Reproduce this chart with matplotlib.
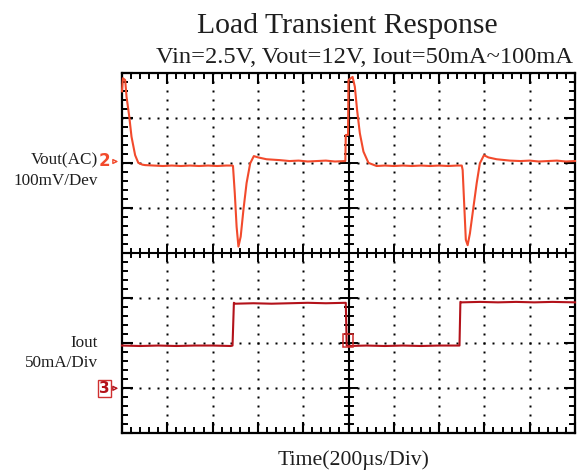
import numpy as np
import matplotlib
matplotlib.use("Agg")
import matplotlib.pyplot as plt
from matplotlib.patches import Rectangle

# ---------------- data (grid divisions) ----------------
vout_t = [0.00, 0.02, 0.07, 0.10, 0.16, 0.21, 0.29, 0.36, 0.45, 0.51, 0.70, 0.90, 1.10, 1.30,
          1.50, 1.70, 1.90, 2.10, 2.30, 2.44, 2.45, 2.49, 2.53, 2.57, 2.62, 2.68, 2.75, 2.83,
          2.91, 3.01, 3.19, 3.49, 3.70, 3.90, 4.10, 4.30, 4.50, 4.70, 4.93, 4.94, 4.99, 5.00,
          5.09, 5.14, 5.19, 5.25, 5.33, 5.44, 5.62, 5.80, 6.00, 6.20, 6.40, 6.60, 6.80, 7.00,
          7.20, 7.40, 7.50, 7.52, 7.56, 7.59, 7.63, 7.68, 7.76, 7.83, 7.90, 7.99, 8.09, 8.27,
          8.56, 8.80, 9.00, 9.20, 9.40, 9.60, 9.80, 10.00]
vout_v = [7.60, 7.89, 7.85, 7.48, 7.04, 6.59, 6.18, 6.01, 5.97, 5.96, 5.95, 5.94, 5.95, 5.94,
          5.95, 5.94, 5.95, 5.94, 5.95, 5.95, 5.94, 5.33, 4.59, 4.15, 4.37, 4.96, 5.56, 6.00,
          6.16, 6.13, 6.09, 6.07, 6.05, 6.06, 6.04, 6.05, 6.06, 6.04, 6.05, 6.63, 6.63, 7.85,
          7.92, 7.70, 7.18, 6.67, 6.26, 6.01, 5.94, 5.95, 5.94, 5.95, 5.94, 5.95, 5.94, 5.95,
          5.94, 5.95, 5.95, 5.85, 4.96, 4.30, 4.18, 4.44, 5.04, 5.56, 6.00, 6.18, 6.13, 6.09,
          6.06, 6.05, 6.06, 6.04, 6.05, 6.06, 6.04, 6.05]

iout_t = [0.00, 0.40, 0.80, 1.20, 1.60, 2.00, 2.40, 2.44, 2.47, 2.50, 2.90, 3.30, 3.70, 4.10,
          4.50, 4.94, 4.96, 5.00, 5.40, 5.80, 6.20, 6.60, 7.00, 7.45, 7.47, 7.50, 7.90, 8.30,
          8.70, 9.10, 9.50, 10.00]
iout_v = [1.95, 1.94, 1.95, 1.94, 1.95, 1.95, 1.94, 1.95, 2.90, 2.88, 2.89, 2.88, 2.89, 2.90,
          2.89, 2.90, 1.95, 1.94, 1.95, 1.94, 1.95, 1.94, 1.95, 1.95, 2.92, 2.91, 2.92, 2.91,
          2.92, 2.91, 2.92, 2.91]

ch_labels = ["2", "3"]
ch_levels = [6.04, 1.0]
trigger_t = 5.0
trigger_v = 2.05

title = "Load Transient Response"
subtitle = "Vin=2.5V, Vout=12V, Iout=50mA~100mA"
xlabel = "Time(200\u00b5s/Div)"
ch2_text = ["Vout(AC)", "100mV/Dev"]
ch3_text = ["Iout", "50mA/Div"]

# ---------------- style ----------------
W, H = 583, 471
VOUT_C = "#f24a2c"
IOUT_C = "#b3121a"
SERIF = ["Liberation Serif", "DejaVu Serif"]
NX, NY = 10, 8

fig = plt.figure(figsize=(W / 100, H / 100), dpi=100)
L, R, T, B = 122, 575, 73.3, 433.3
ax = fig.add_axes([L / W, 1 - B / H, (R - L) / W, (B - T) / H])
ax.set_xlim(0, NX)
ax.set_ylim(0, NY)

for s in ax.spines.values():
    s.set_linewidth(1.6)
    s.set_color("black")

ax.set_xticks(np.arange(0, NX + 1, 1))
ax.set_yticks(np.arange(0, NY + 1, 1))
ax.set_xticks(np.arange(0, NX + 0.01, 0.2), minor=True)
ax.set_yticks(np.arange(0, NY + 0.01, 0.2), minor=True)
ax.tick_params(which="both", direction="in", top=True, right=True,
               labelbottom=False, labelleft=False, color="black")
ax.tick_params(which="major", length=8, width=1.5)
ax.tick_params(which="minor", length=4, width=1.4)

# dotted grid
minor_x = np.arange(0, NX + 0.01, 0.2)
minor_y = np.arange(0, NY + 0.01, 0.2)
for gx in range(1, NX):
    if gx == NX // 2:
        continue
    ax.plot(np.full_like(minor_y, gx), minor_y, ls="none", marker="s", ms=1.8,
            mfc="black", mec="none", zorder=1)
for gy in range(1, NY):
    if gy == NY // 2:
        continue
    ax.plot(minor_x, np.full_like(minor_x, gy), ls="none", marker="s", ms=1.8,
            mfc="black", mec="none", zorder=1)

# centre cross with ticks
ax.axvline(NX / 2, color="black", lw=1.5, zorder=1)
ax.axhline(NY / 2, color="black", lw=1.5, zorder=1)
tx = 4 / 45.3  # tick half-length in x units (~4 px)
ty = 4 / 45.0
for yy in minor_y:
    big = abs(yy - round(yy)) < 1e-6
    k = 2.0 if big else 1.0
    ax.plot([NX / 2 - tx * k, NX / 2 + tx * k], [yy, yy], color="black", lw=1.4, zorder=1)
for xx in minor_x:
    big = abs(xx - round(xx)) < 1e-6
    k = 2.0 if big else 1.0
    ax.plot([xx, xx], [NY / 2 - ty * k, NY / 2 + ty * k], color="black", lw=1.4, zorder=1)

# traces
ax.plot(vout_t, vout_v, color=VOUT_C, lw=1.5, zorder=3, clip_on=False)
ax.plot(iout_t, iout_v, color=IOUT_C, lw=1.5, zorder=3, clip_on=False)

# trigger marker box
ax.add_patch(Rectangle((trigger_t - 0.12, trigger_v - 0.13), 0.22, 0.28, fill=False,
                       ec="#d02a2a", lw=1.1, zorder=4))

# channel markers (left of axes)
ax.text(-0.25, ch_levels[0], ch_labels[0], color=VOUT_C, fontsize=12, fontweight="bold",
        ha="right", va="center", family=["DejaVu Sans"], clip_on=False)
ax.annotate("", xy=(-0.02, ch_levels[0]), xytext=(-0.25, ch_levels[0]),
            arrowprops=dict(arrowstyle="-|>", color=VOUT_C, lw=1.0, mutation_scale=7,
                            fc="white"), annotation_clip=False)
ax.text(-0.27, ch_levels[1], ch_labels[1], color=IOUT_C, fontsize=11, fontweight="bold",
        ha="right", va="center", family=["DejaVu Sans"], clip_on=False,
        bbox=dict(boxstyle="square,pad=0.08", fc="none", ec="#d03030", lw=1.0))
ax.annotate("", xy=(-0.02, ch_levels[1]), xytext=(-0.26, ch_levels[1]),
            arrowprops=dict(arrowstyle="-|>", color=IOUT_C, lw=1.0, mutation_scale=7,
                            fc="white"), annotation_clip=False)

# texts
def ftxt(x, y, s, **kw):
    fig.text(x / W, 1 - y / H, s, family=SERIF, color="#1e1e1e", **kw)

ftxt(347.5, 33.3, title, fontsize=21.4, ha="center", va="baseline")
ftxt(573.5, 63.3, subtitle, fontsize=17.6, ha="right", va="baseline")
ftxt(98.3, 160.7, ch2_text[0], fontsize=12.3, ha="right", va="center")
ftxt(98.3, 180.7, ch2_text[1], fontsize=12.3, ha="right", va="center")
ftxt(98.3, 343.3, ch3_text[0], fontsize=12.3, ha="right", va="center")
ftxt(98.3, 362.7, ch3_text[1], fontsize=12.3, ha="right", va="center")
ftxt(354, 465, xlabel, fontsize=15.7, ha="center", va="baseline")

fig.savefig("out.png", dpi=100, facecolor="white")
